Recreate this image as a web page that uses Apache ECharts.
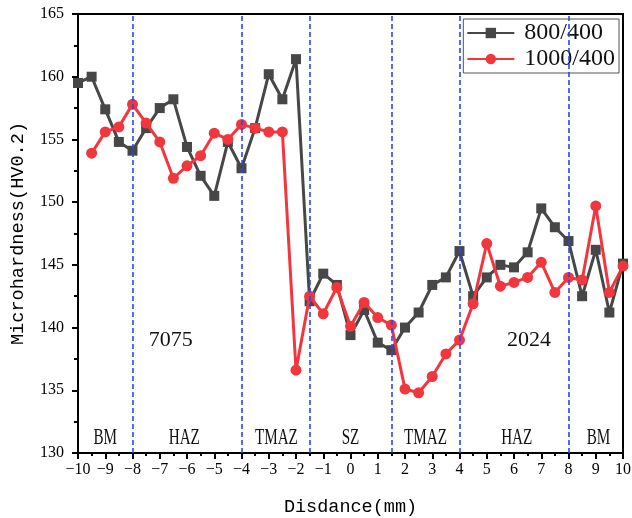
<!DOCTYPE html>
<html>
<head>
<meta charset="utf-8">
<script src="https://cdn.jsdelivr.net/npm/echarts@6/dist/echarts.min.js"></script>
<style>html,body{margin:0;padding:0;background:#fff;}#c{width:632px;height:518px;}</style>
</head>
<body>
<div id="c"></div>
<script>
// ---- data ----
const distGray = [-10,-9.5,-9,-8.5,-8,-7.5,-7,-6.5,-6,-5.5,-5,-4.5,-4,-3.5,-3,-2.5,-2,-1.5,-1,-0.5,0,0.5,1,1.5,2,2.5,3,3.5,4,4.5,5,5.5,6,6.5,7,7.5,8,8.5,9,9.5,10];
const hv800 = [159.5,160.0,157.4,154.8,154.1,155.9,157.5,158.2,154.4,152.1,150.5,154.8,152.7,155.9,160.2,158.2,161.4,142.1,144.3,143.4,139.4,141.4,138.8,138.2,140.0,141.2,143.4,144.0,146.1,142.5,144.0,145.0,144.8,146.0,149.5,148.0,146.9,142.5,146.2,141.2,145.1];
const distRed = [-9.5,-9,-8.5,-8,-7.5,-7,-6.5,-6,-5.5,-5,-4.5,-4,-3.5,-3,-2.5,-2,-1.5,-1,-0.5,0,0.5,1,1.5,2,2.5,3,3.5,4,4.5,5,5.5,6,6.5,7,7.5,8,8.5,9,9.5,10];
const hv1000 = [153.9,155.6,156.0,157.8,156.3,154.8,151.9,152.9,153.7,155.5,155.0,156.2,155.9,155.6,155.6,136.6,142.5,141.1,143.2,140.1,142.0,140.8,140.2,135.1,134.8,136.1,137.9,139.0,141.9,146.7,143.3,143.6,144.0,145.2,142.8,144.0,143.8,149.7,142.8,144.9];
const seriesNames = ['800/400', '1000/400'];
const zoneBounds = [-8, -4, -1.5, 1.5, 4, 8];
const zoneNames = ['BM','HAZ','TMAZ','SZ','TMAZ','HAZ','BM'];
const zoneCenters = [-9, -6.1, -2.72, 0, 2.75, 6.1, 9.1];
const alloyNames = ['7075', '2024'];
const alloyX = [-6.6, 6.55];
const alloyY = [139.0, 139.0];

const chart = echarts.init(document.getElementById('c'), null, {renderer: 'canvas'});
const tickFont = {fontFamily: 'Liberation Serif', fontSize: 16, color: '#000'};

const zoneData = zoneNames.map((n, i) => [zoneCenters[i], 130, n]);
const alloyData = alloyNames.map((n, i) => [alloyX[i], alloyY[i], n]);

const option = {
  animation: false,
  backgroundColor: '#fff',
  grid: {left: 78, right: 9, top: 14, bottom: 65, show: true, borderColor: '#000', borderWidth: 2, backgroundColor: 'transparent', outerBoundsMode: 'none'},
  legend: {
    data: seriesNames,
    orient: 'vertical',
    right: 13, top: 19,
    itemWidth: 47, itemHeight: 13, itemGap: 2,
    padding: [2, 4, 2, 3],
    borderColor: '#555', borderWidth: 1, backgroundColor: '#fff',
    textStyle: {fontFamily: 'Liberation Serif', fontSize: 24, color: '#111', padding: [0, 0, 0, 5]}
  },
  xAxis: {
    type: 'value', min: -10, max: 10, interval: 1,
    name: 'Disdance(mm)', nameLocation: 'middle', nameGap: 45,
    nameTextStyle: {fontFamily: 'Liberation Mono', fontSize: 18.5, color: '#000'},
    axisLine: {onZero: false, lineStyle: {color: '#000', width: 2}},
    axisTick: {inside: false, length: 6, lineStyle: {color: '#000', width: 2}},
    minorTick: {show: true, splitNumber: 2, length: 3, lineStyle: {color: '#000', width: 2}},
    axisLabel: Object.assign({margin: 9, formatter: v => String(v).replace('-', '\u2212')}, tickFont),
    splitLine: {show: false}
  },
  yAxis: {
    type: 'value', min: 130, max: 165, interval: 5,
    name: 'Microhardness(HV0.2)', nameLocation: 'middle', nameGap: 50,
    nameTextStyle: {fontFamily: 'Liberation Mono', fontSize: 18.6, color: '#000'},
    axisLine: {show: true, onZero: false, lineStyle: {color: '#000', width: 2}},
    axisTick: {show: true, inside: false, length: 6, lineStyle: {color: '#000', width: 2}},
    minorTick: {show: true, splitNumber: 2, length: 4, lineStyle: {color: '#000', width: 2}},
    axisLabel: Object.assign({margin: 14}, tickFont),
    splitLine: {show: false}
  },
  series: [
    {
      name: seriesNames[0], type: 'line',
      data: distGray.map((x, i) => [x, hv800[i]]),
      symbol: 'rect', symbolSize: 10,
      lineStyle: {color: '#474747', width: 3},
      itemStyle: {color: '#474747'},
      z: 3,
      markLine: {
        silent: true, symbol: ['none', 'none'],
        label: {show: false},
        lineStyle: {color: '#2f45f2', type: [5, 3], width: 1.6},
        data: zoneBounds.map(b => ({xAxis: b}))
      }
    },
    {
      name: seriesNames[1], type: 'line',
      data: distRed.map((x, i) => [x, hv1000[i]]),
      symbol: 'circle', symbolSize: 11,
      lineStyle: {color: '#f2363d', width: 3},
      itemStyle: {color: '#f2363d'},
      z: 4
    },
    {
      name: 'zones', type: 'custom', silent: true, z: 5,
      data: zoneData,
      renderItem: function (params, api) {
        const p = api.coord([api.value(0), api.value(1)]);
        return {
          type: 'text', x: p[0], y: p[1] - 4, scaleX: 0.66,
          style: {text: zoneNames[params.dataIndex], font: '23px "Liberation Serif"', fill: '#111',
                  align: 'center', verticalAlign: 'bottom', textAlign: 'center', textVerticalAlign: 'bottom'}
        };
      }
    },
    {
      name: 'alloys', type: 'custom', silent: true, z: 5,
      data: alloyData,
      renderItem: function (params, api) {
        const p = api.coord([api.value(0), api.value(1)]);
        return {
          type: 'text', x: p[0], y: p[1],
          style: {text: alloyNames[params.dataIndex], font: '22px "Liberation Serif"', fill: '#111',
                  align: 'center', verticalAlign: 'middle', textAlign: 'center', textVerticalAlign: 'middle'}
        };
      }
    }
  ]
};
chart.setOption(option);
</script>
</body>
</html>
